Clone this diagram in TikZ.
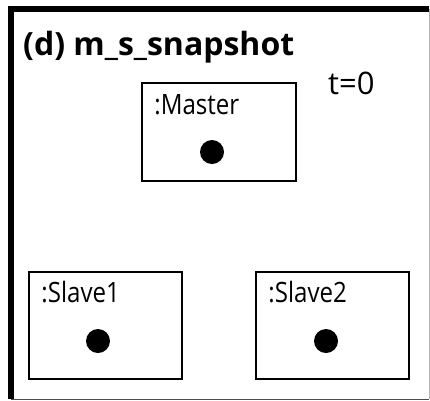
\documentclass[tikz,border=0pt]{standalone}
\usepackage{fontspec}
\setmainfont{Open Sans}
\newfontfamily\lblfont[FakeStretch=0.86]{Open Sans}
\usetikzlibrary{positioning, calc}
\tikzset{
  objbox/.style = {
    rectangle, draw=black, line width=1.6pt, fill=white,
    minimum width=154pt, minimum height=98pt, inner sep=0pt
  },
  objlabel/.style = {anchor=base west, font=\lblfont\fontsize{28}{30}\selectfont, inner sep=0pt},
  dot/.style = {circle, fill=black, minimum size=24pt, inner sep=0pt},
  frameline/.style = {line width=6pt, black}
}

\begin{document}
\begin{tikzpicture}[x=1pt, y=-1pt]
  \useasboundingbox (0,0) rectangle (430,400);
  % outer frame
  \coordinate (fnw) at (11,9);
  \coordinate (fsw) at (11,399);
  \coordinate (fne) at (429,9);
  \coordinate (fse) at (429,399);
  \draw[gray!60, line width=1pt] (fne) -- (fse);
  \draw[black!70, line width=1pt] (fsw) -- (fse);
  \draw[frameline] (fsw) -- (fnw) -- (fne);

  % title
  \node[anchor=base west, inner sep=0pt, font=\fontsize{32}{34}\selectfont\bfseries]
    (title) at (23,55) {(d) m\_s\_snapshot};
  \node[anchor=base west, inner sep=0pt, font=\fontsize{31}{33}\selectfont]
    (time) at (328,94) {t=0};

  % objects
  \node[objbox] (master) at (219,132) {};
  \node[objbox, minimum width=153pt, minimum height=107pt] (slave1) at (105.5,325.5) {};
  \node[objbox, minimum width=153pt, minimum height=107pt] (slave2) at (332.5,325.5) {};

  \node[objlabel] at ($(master.north west)+(13,32)$) {:Master};
  \node[objlabel] at ($(slave1.north west)+(13,31)$) {:Slave1};
  \node[objlabel] at ($(slave2.north west)+(13,31)$) {:Slave2};

  \node[dot] (mdot) at (212,152) {};
  \node[dot] (s1dot) at (98,341) {};
  \node[dot] (s2dot) at (326,341) {};
\end{tikzpicture}
\end{document}
